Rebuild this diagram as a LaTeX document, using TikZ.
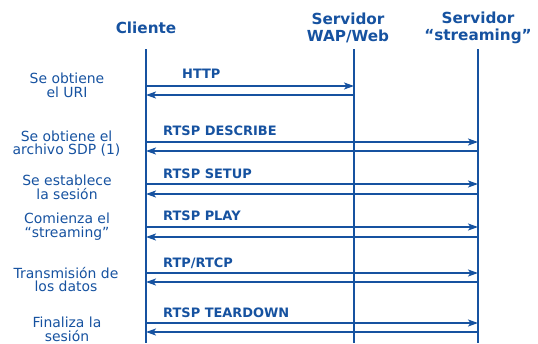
\documentclass[tikz,border=0pt]{standalone}
\usepackage{fontspec}
\setmainfont{DejaVu Sans}
\usetikzlibrary{arrows.meta}
\definecolor{azul}{RGB}{22,82,160}
\begin{document}
\begin{tikzpicture}[x=1bp,y=-1bp,
  head/.style={font=\bfseries\fontsize{15.3}{17}\selectfont,text=azul,align=center,inner sep=0pt},
  side/.style={font=\fontsize{14}{13.8}\selectfont,text=azul,align=center,inner sep=0pt},
  msglabel/.style={font=\bfseries\fontsize{13}{13}\selectfont,text=azul,anchor=west,inner sep=0pt},
  life/.style={draw=azul,line width=2bp},
  msg/.style={draw=azul,line width=1.8bp,-{Stealth[length=10bp,width=7bp,inset=2.5bp]}}]
\useasboundingbox (0,0) rectangle (538,343);
% headers
\node[head] (cli) at (146,28) {Cliente};
\node[head] (wap) at (348,28) {Servidor\\WAP/Web};
\node[head] (str) at (478,28) {Servidor\\“streaming”};
% lifelines
\coordinate (clitop) at (146,49); \coordinate (clibot) at (146,343);
\coordinate (waptop) at (354,49); \coordinate (wapbot) at (354,343);
\coordinate (strtop) at (478,49); \coordinate (strbot) at (478,343);
\draw[life] (clitop) -- (clibot);
\draw[life] (waptop) -- (wapbot);
\draw[life] (strtop) -- (strbot);
% left labels
\node[side] (l1) at (67,85) {Se obtiene\\el URI};
\node[side] (l2) at (66.5,143.5) {Se obtiene el\\archivo SDP (1)};
\node[side] (l3) at (67,187.5) {Se establece\\la sesión};
\node[side] (l4) at (67,226.5) {Comienza el\\“streaming”};
\node[side] (l5) at (66,279.5) {Transmisión de\\los datos};
\node[side] (l6) at (67,329) {Finaliza la\\sesión};
% message coordinates
\coordinate (a1) at (146,86);   \coordinate (b1) at (354,86);
\coordinate (a1r) at (146,95); \coordinate (b1r) at (354,95);
\coordinate (a2) at (146,142);  \coordinate (b2) at (478,142);
\coordinate (a2r) at (146,151); \coordinate (b2r) at (478,151);
\coordinate (a3) at (146,184);  \coordinate (b3) at (478,184);
\coordinate (a3r) at (146,194); \coordinate (b3r) at (478,194);
\coordinate (a4) at (146,227);  \coordinate (b4) at (478,227);
\coordinate (a4r) at (146,237); \coordinate (b4r) at (478,237);
\coordinate (a5) at (146,273);  \coordinate (b5) at (478,273);
\coordinate (a5r) at (146,282); \coordinate (b5r) at (478,282);
\coordinate (a6) at (146,323);  \coordinate (b6) at (478,323);
\coordinate (a6r) at (146,332); \coordinate (b6r) at (478,332);
% messages
\draw[msg] (a1) -- (b1);  \draw[msg] (b1r) -- (a1r);
\draw[msg] (a2) -- (b2);  \draw[msg] (b2r) -- (a2r);
\draw[msg] (a3) -- (b3);  \draw[msg] (b3r) -- (a3r);
\draw[msg] (a4) -- (b4);  \draw[msg] (b4r) -- (a4r);
\draw[msg] (a5) -- (b5);  \draw[msg] (b5r) -- (a5r);
\draw[msg] (a6) -- (b6);  \draw[msg] (b6r) -- (a6r);
% message labels
\node[msglabel] (m1) at (182,74) {HTTP};
\node[msglabel] (m2) at (163,131) {RTSP DESCRIBE};
\node[msglabel] (m3) at (163,174) {RTSP SETUP};
\node[msglabel] (m4) at (163,216) {RTSP PLAY};
\node[msglabel] (m5) at (163,263) {RTP/RTCP};
\node[msglabel] (m6) at (163,313) {RTSP TEARDOWN};
\end{tikzpicture}
\end{document}
